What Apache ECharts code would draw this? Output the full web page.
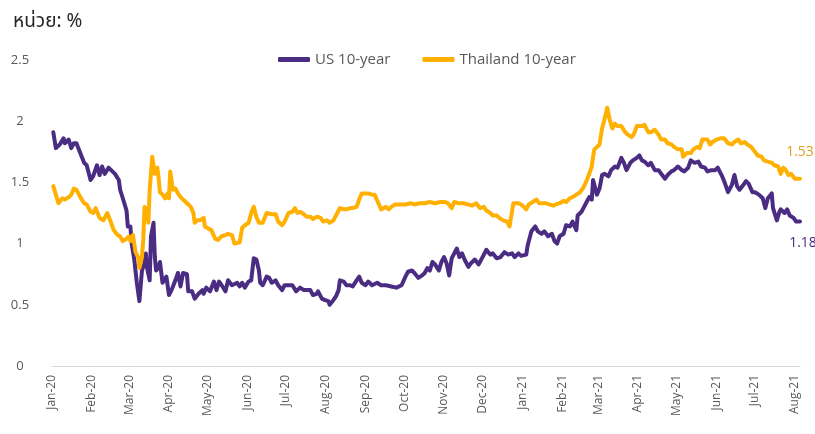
<!DOCTYPE html>
<html>
<head>
<meta charset="utf-8">
<style>
  html, body { margin: 0; padding: 0; background: #fff; }
  #chart { width: 815px; height: 434px; }
</style>
<script src="https://cdn.jsdelivr.net/npm/echarts@6/dist/echarts.min.js"></script>
</head>
<body>
<div id="chart"></div>
<script>
// day offsets are counted from 1 Jan 2020
var startYear = 2020;
var monthNames = ['Jan', 'Feb', 'Mar', 'Apr', 'May', 'Jun', 'Jul', 'Aug', 'Sep', 'Oct', 'Nov', 'Dec'];
var axisEndDay = 582;

var usPoints = [
    [1, 1.91], [3, 1.78], [6, 1.81], [9, 1.86], [10, 1.82], [13, 1.85], [15, 1.78], [17, 1.82], [19, 1.82], [22, 1.74],
    [25, 1.66], [27, 1.64], [30, 1.52], [32, 1.55], [35, 1.64], [37, 1.56], [39, 1.63], [41, 1.57], [44, 1.62], [47, 1.59],
    [49, 1.57], [52, 1.52], [53, 1.44], [56, 1.34], [58, 1.27], [59, 1.14], [61, 1.14], [62, 1.00], [64, 0.87], [66, 0.68],
    [68, 0.53], [70, 0.78], [72, 0.84], [73, 0.92], [74, 0.80], [76, 0.70], [77, 1.06], [79, 1.17], [80, 0.89], [81, 0.78],
    [83, 0.81], [84, 0.85], [86, 0.68], [89, 0.73], [91, 0.58], [93, 0.62], [96, 0.70], [98, 0.76], [100, 0.65], [102, 0.76],
    [105, 0.75], [106, 0.61], [109, 0.61], [111, 0.55], [114, 0.59], [117, 0.62], [118, 0.59], [120, 0.64], [123, 0.61], [126, 0.69],
    [128, 0.62], [130, 0.69], [132, 0.66], [135, 0.61], [137, 0.70], [140, 0.66], [144, 0.68], [146, 0.65], [148, 0.68], [150, 0.64],
    [153, 0.69], [155, 0.70], [157, 0.88], [159, 0.87], [161, 0.78], [162, 0.68], [164, 0.66], [167, 0.73], [169, 0.72], [171, 0.68],
    [174, 0.70], [176, 0.66], [179, 0.62], [181, 0.66], [185, 0.66], [187, 0.66], [190, 0.61], [193, 0.64], [196, 0.62], [198, 0.62],
    [201, 0.62], [203, 0.58], [206, 0.59], [207, 0.61], [210, 0.55], [212, 0.54], [215, 0.53], [216, 0.50], [219, 0.54], [221, 0.57],
    [223, 0.62], [224, 0.70], [227, 0.69], [229, 0.66], [232, 0.66], [234, 0.65], [237, 0.70], [239, 0.73], [241, 0.68], [244, 0.66],
    [246, 0.69], [249, 0.66], [253, 0.68], [256, 0.66], [260, 0.66], [264, 0.65], [268, 0.64], [272, 0.66], [275, 0.73], [277, 0.77],
    [280, 0.78], [282, 0.76], [285, 0.72], [288, 0.74], [290, 0.76], [292, 0.80], [294, 0.78], [296, 0.85], [298, 0.83], [301, 0.78],
    [303, 0.85], [305, 0.89], [307, 0.84], [309, 0.74], [311, 0.88], [313, 0.92], [315, 0.96], [317, 0.89], [319, 0.92], [321, 0.87],
    [324, 0.81], [326, 0.84], [329, 0.87], [332, 0.83], [335, 0.89], [338, 0.95], [341, 0.91], [343, 0.92], [346, 0.88], [349, 0.89],
    [352, 0.93], [355, 0.91], [358, 0.92], [360, 0.89], [363, 0.92], [365, 0.90], [369, 0.91], [370, 0.98], [373, 1.10], [376, 1.14],
    [378, 1.10], [381, 1.08], [383, 1.10], [386, 1.06], [389, 1.08], [391, 1.02], [393, 1.00], [395, 1.06], [398, 1.08], [400, 1.15],
    [403, 1.14], [405, 1.18], [408, 1.11], [409, 1.23], [412, 1.26], [414, 1.30], [416, 1.34], [418, 1.38], [420, 1.36], [421, 1.52],
    [424, 1.40], [426, 1.45], [428, 1.56], [430, 1.57], [433, 1.55], [435, 1.60], [438, 1.63], [440, 1.62], [443, 1.70], [445, 1.66],
    [447, 1.60], [450, 1.66], [452, 1.68], [455, 1.70], [457, 1.72], [459, 1.68], [461, 1.67], [464, 1.64], [466, 1.66], [469, 1.60],
    [472, 1.60], [474, 1.57], [477, 1.53], [479, 1.56], [482, 1.59], [484, 1.60], [487, 1.63], [490, 1.60], [492, 1.59], [495, 1.62],
    [497, 1.68], [500, 1.66], [503, 1.67], [505, 1.63], [508, 1.62], [510, 1.59], [513, 1.60], [516, 1.60], [518, 1.62], [521, 1.56],
    [523, 1.51], [526, 1.42], [529, 1.48], [531, 1.56], [533, 1.47], [535, 1.44], [538, 1.48], [540, 1.51], [542, 1.49], [545, 1.42],
    [547, 1.42], [550, 1.40], [553, 1.37], [555, 1.29], [557, 1.37], [560, 1.41], [561, 1.29], [564, 1.19], [566, 1.26], [567, 1.28],
    [570, 1.25], [572, 1.28], [574, 1.23], [577, 1.21], [579, 1.18], [582, 1.18]
];

var thPoints = [
    [1, 1.47], [3, 1.40], [5, 1.33], [8, 1.37], [10, 1.36], [13, 1.38], [15, 1.40], [17, 1.45], [19, 1.44], [22, 1.38],
    [25, 1.33], [27, 1.32], [30, 1.26], [32, 1.25], [34, 1.29], [37, 1.21], [40, 1.19], [43, 1.25], [44, 1.26], [46, 1.17],
    [48, 1.11], [51, 1.07], [53, 1.06], [55, 1.02], [58, 1.04], [60, 1.06], [61, 1.02], [63, 1.07], [65, 0.93], [67, 0.89],
    [68, 0.80], [70, 0.89], [71, 1.03], [72, 1.30], [74, 1.27], [75, 1.17], [76, 1.44], [78, 1.71], [79, 1.72], [80, 1.57],
    [82, 1.62], [83, 1.53], [84, 1.42], [86, 1.40], [88, 1.37], [90, 1.41], [91, 1.37], [92, 1.59], [94, 1.44], [96, 1.45],
    [98, 1.41], [100, 1.38], [102, 1.36], [105, 1.33], [108, 1.30], [110, 1.25], [111, 1.17], [113, 1.19], [115, 1.19], [118, 1.21],
    [119, 1.14], [122, 1.12], [124, 1.11], [127, 1.04], [129, 1.03], [132, 1.06], [135, 1.07], [137, 1.08], [140, 1.07], [142, 1.00],
    [143, 1.00], [146, 1.01], [148, 1.13], [150, 1.15], [153, 1.17], [155, 1.25], [157, 1.30], [159, 1.22], [161, 1.17], [164, 1.17],
    [167, 1.25], [168, 1.26], [171, 1.24], [174, 1.24], [176, 1.18], [179, 1.15], [181, 1.18], [184, 1.25], [187, 1.26], [189, 1.29],
    [191, 1.25], [193, 1.26], [196, 1.24], [198, 1.22], [201, 1.22], [203, 1.20], [206, 1.22], [209, 1.21], [211, 1.18], [214, 1.19],
    [216, 1.17], [219, 1.19], [222, 1.25], [224, 1.29], [227, 1.28], [229, 1.28], [232, 1.29], [234, 1.29], [237, 1.30], [239, 1.36],
    [241, 1.41], [244, 1.41], [246, 1.41], [249, 1.40], [251, 1.40], [254, 1.33], [256, 1.28], [258, 1.29], [260, 1.30], [262, 1.28],
    [264, 1.30], [267, 1.32], [271, 1.32], [275, 1.32], [279, 1.33], [282, 1.32], [286, 1.33], [290, 1.33], [294, 1.34], [298, 1.33],
    [302, 1.34], [306, 1.34], [308, 1.33], [311, 1.29], [313, 1.34], [316, 1.33], [320, 1.33], [324, 1.32], [327, 1.31], [330, 1.33],
    [333, 1.29], [336, 1.30], [338, 1.27], [341, 1.25], [343, 1.23], [346, 1.23], [348, 1.21], [351, 1.19], [354, 1.18], [356, 1.14],
    [357, 1.15], [359, 1.33], [363, 1.33], [365, 1.32], [369, 1.28], [371, 1.32], [374, 1.34], [377, 1.36], [379, 1.33], [382, 1.33],
    [384, 1.33], [387, 1.32], [390, 1.31], [392, 1.32], [395, 1.33], [398, 1.35], [400, 1.34], [403, 1.37], [405, 1.38], [408, 1.40],
    [411, 1.42], [413, 1.45], [415, 1.49], [418, 1.57], [420, 1.63], [421, 1.71], [422, 1.77], [426, 1.81], [428, 1.94], [430, 2.02],
    [432, 2.11], [434, 2.01], [436, 1.94], [438, 1.98], [440, 1.96], [443, 1.96], [446, 1.91], [448, 1.89], [451, 1.87], [453, 1.90],
    [455, 1.96], [459, 1.96], [461, 1.97], [464, 1.91], [466, 1.91], [469, 1.93], [472, 1.89], [474, 1.85], [477, 1.85], [479, 1.82],
    [482, 1.81], [484, 1.79], [487, 1.77], [490, 1.77], [491, 1.71], [494, 1.74], [497, 1.74], [499, 1.77], [502, 1.79], [504, 1.78],
    [506, 1.85], [510, 1.85], [512, 1.81], [514, 1.83], [517, 1.85], [520, 1.86], [523, 1.86], [526, 1.82], [529, 1.81], [531, 1.83],
    [534, 1.85], [536, 1.82], [539, 1.83], [541, 1.81], [544, 1.79], [547, 1.75], [549, 1.72], [552, 1.71], [554, 1.68], [557, 1.67],
    [560, 1.66], [562, 1.64], [565, 1.63], [567, 1.57], [569, 1.62], [571, 1.60], [573, 1.56], [575, 1.57], [578, 1.53], [582, 1.53]
];

var US_COLOR = '#4B2C83';
var TH_COLOR = '#FFB000';

function dayToTime(d) {
    return new Date(startYear, 0, 1 + d).getTime();
}

function toSeriesData(points) {
    return points.map(function (p) {
        return [dayToTime(p[0]), p[1]];
    });
}

function endValue(p) {
    return p.value[1].toFixed(2);
}

var myChart = echarts.init(document.getElementById('chart'));

var option = {
    animation: false,
    title: {
        text: 'หน่วย: %',
        left: 8,
        top: 9,
        textStyle: {
            fontFamily: "'Noto Sans Thai', 'Noto Sans', 'DejaVu Sans', sans-serif",
            fontSize: 19,
            fontWeight: 'normal',
            color: '#262626'
        }
    },
    legend: {
        left: 273,
        top: 47,
        icon: 'roundRect',
        itemWidth: 32,
        itemHeight: 5,
        itemGap: 32,
        textStyle: {
            fontFamily: "'Open Sans', sans-serif",
            fontSize: 15,
            color: '#595959'
        },
        data: ['US 10-year', 'Thailand 10-year']
    },
    grid: {
        left: 52,
        right: 15,
        top: 60,
        bottom: 68
    },
    xAxis: {
        type: 'time',
        min: dayToTime(0),
        max: dayToTime(axisEndDay),
        minInterval: 28 * 86400000,
        maxInterval: 31 * 86400000,
        axisLine: {
            lineStyle: { color: '#d9d9d9', width: 1 }
        },
        axisTick: { show: false },
        splitLine: { show: false },
        axisLabel: {
            rotate: 90,
            margin: 9,
            fontFamily: "'Open Sans', sans-serif",
            fontSize: 12,
            color: '#595959',
            hideOverlap: false,
            formatter: function (val) {
                var d = new Date(val);
                return monthNames[d.getMonth()] + '-' + String(d.getFullYear() % 100);
            }
        }
    },
    yAxis: {
        type: 'value',
        min: 0,
        max: 2.5,
        interval: 0.5,
        axisLine: { show: false },
        axisTick: { show: false },
        splitLine: { show: false },
        axisLabel: {
            align: 'center',
            margin: 32,
            fontFamily: "'Open Sans', sans-serif",
            fontSize: 13,
            color: '#595959'
        }
    },
    series: [
        {
            name: 'US 10-year',
            type: 'line',
            showSymbol: false,
            symbol: 'none',
            color: US_COLOR,
            lineStyle: { width: 4, color: US_COLOR, cap: 'round', join: 'round' },
            endLabel: {
                show: true,
                distance: 0,
                align: 'center',
                verticalAlign: 'middle',
                offset: [3, 21],
                fontFamily: "'Open Sans', sans-serif",
                fontSize: 14,
                color: US_COLOR,
                formatter: endValue
            },
            data: toSeriesData(usPoints)
        },
        {
            name: 'Thailand 10-year',
            type: 'line',
            showSymbol: false,
            symbol: 'none',
            color: TH_COLOR,
            lineStyle: { width: 4, color: TH_COLOR, cap: 'round', join: 'round' },
            endLabel: {
                show: true,
                distance: 0,
                align: 'center',
                verticalAlign: 'middle',
                offset: [0, -27],
                fontFamily: "'Open Sans', sans-serif",
                fontSize: 14,
                color: '#E0A02A',
                formatter: endValue
            },
            data: toSeriesData(thPoints)
        }
    ]
};

myChart.setOption(option);
window.addEventListener('resize', function () {
    myChart.resize();
});
</script>
</body>
</html>
